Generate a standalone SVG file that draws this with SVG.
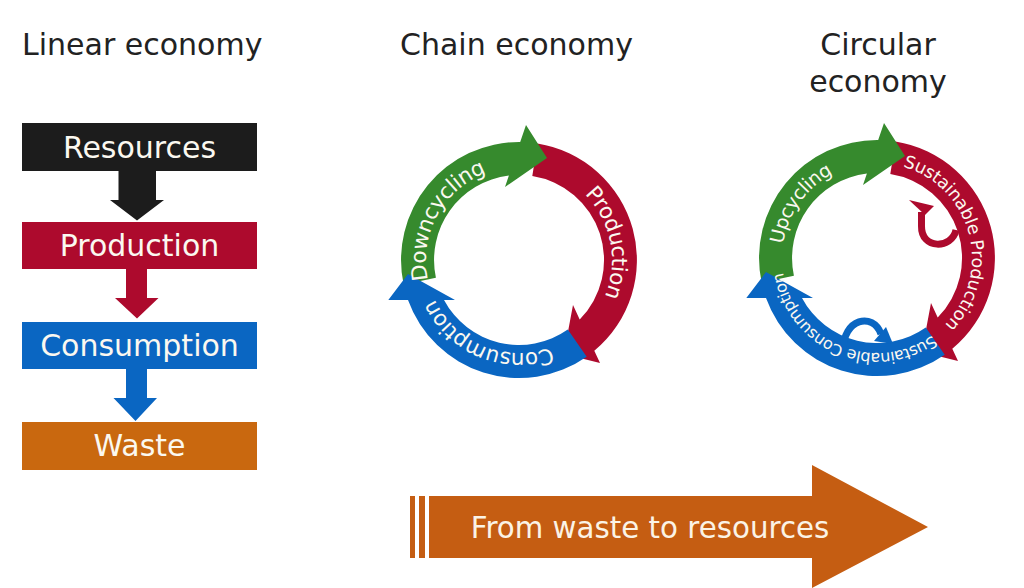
<svg xmlns="http://www.w3.org/2000/svg" xmlns:xlink="http://www.w3.org/1999/xlink" width="1024" height="588" viewBox="0 0 1024 588">
  <style>
    .title { font-family: "DejaVu Sans", Verdana, sans-serif; font-size: 30px; fill: #222222; }
    .boxtxt { font-family: "DejaVu Sans", Verdana, sans-serif; font-size: 30px; fill: #fbf8f0; text-anchor: middle; }
    .ringtxt { font-family: "DejaVu Sans", Verdana, sans-serif; fill: #fbf8f0; text-anchor: middle; }
    .black { fill: #1c1c1c; }
    .red { fill: #ad0a2d; }
    .blue { fill: #0a66c2; }
    .green { fill: #368a2d; }
    .orange { fill: #c9680f; }
    .bigarrow { fill: #c55d12; }
  </style>
  <defs>
    <path id="arcGreen" d="M -115.4 24.5 A 118 118 0 0 1 1.2 -118 L 7 -135 L 28 -102 L -14 -73 L -10.1 -84.4 A 85 85 0 0 0 -83.1 17.7 Z"/>
    <path id="arcRed" d="M 18.5 -116.5 A 118 118 0 0 1 75.3 90.8 L 81 103 L 44.8 93.9 L 54 45 L 60.7 59.5 A 85 85 0 0 0 13.3 -84 Z"/>
    <path id="arcBlue" d="M 67.7 96.7 A 118 118 0 0 1 -111 40 L -130.7 40 L -111 14 L -64 40 L -75 40 A 85 85 0 0 0 48.8 69.6 Z"/>
    <path id="tpChain" d="M 502.85 168.41 A 93 93 0 1 1 535.15 351.59 A 93 93 0 1 1 502.85 168.41"/>
    <path id="tpCirc" d="M 860.50 164.44 A 95 95 0 1 1 893.50 351.56 A 95 95 0 1 1 860.50 164.44"/>
  </defs>

  <!-- Titles -->
  <g id="title-linear"><text class="title" x="22" y="55">Linear economy</text></g>
  <g id="title-chain"><text class="title" x="400" y="55">Chain economy</text></g>
  <g id="title-circular">
    <text class="title" x="878" y="55" text-anchor="middle">Circular</text>
    <text class="title" x="878" y="92" text-anchor="middle">economy</text>
  </g>

  <!-- Linear economy nodes -->
  <g id="node-resources">
    <rect class="black" x="22" y="123" width="235" height="48"/>
    <text class="boxtxt" x="139.5" y="158">Resources</text>
  </g>
  <g id="node-production">
    <rect class="red" x="22" y="222" width="235" height="47"/>
    <text class="boxtxt" x="139.5" y="256">Production</text>
  </g>
  <g id="node-consumption">
    <rect class="blue" x="22" y="322" width="235" height="47"/>
    <text class="boxtxt" x="139.5" y="356">Consumption</text>
  </g>
  <g id="node-waste">
    <rect class="orange" x="22" y="422" width="235" height="48"/>
    <text class="boxtxt" x="139.5" y="456">Waste</text>
  </g>

  <!-- Linear connectors -->
  <g id="connectors">
    <polygon class="black" points="118.5,170 156,170 156,200 164,200 137,220.5 110,200 118.5,200"/>
    <polygon class="red" points="126,268 147,268 147,298 158.5,298 137,318.5 115,298 126,298"/>
    <polygon class="blue" points="126,368 147,368 147,398 157,398 135.5,421 113.5,398 126,398"/>
  </g>

  <!-- Chain economy -->
  <g id="chain-production" transform="translate(519,260)"><use xlink:href="#arcRed" class="red"/></g>
  <g id="chain-downcycling" transform="translate(519,260)"><use xlink:href="#arcGreen" class="green"/></g>
  <g id="chain-consumption" transform="translate(519,260)"><use xlink:href="#arcBlue" class="blue"/></g>
  <g id="chain-labels">
    <text class="ringtxt" font-size="21.5" letter-spacing="-0.4"><textPath xlink:href="#tpChain" startOffset="144">Production</textPath></text>
    <text class="ringtxt" font-size="21.5" letter-spacing="-0.4"><textPath xlink:href="#tpChain" startOffset="344">Consumption</textPath></text>
    <text class="ringtxt" font-size="21.5" letter-spacing="-0.4"><textPath xlink:href="#tpChain" startOffset="500">Downcycling</textPath></text>
  </g>

  <!-- Circular economy -->
  <g id="circ-production" transform="translate(877,258)"><use xlink:href="#arcRed" class="red"/></g>
  <g id="circ-upcycling" transform="translate(877,258)"><use xlink:href="#arcGreen" class="green"/></g>
  <g id="circ-consumption" transform="translate(877,258)"><use xlink:href="#arcBlue" class="blue"/></g>
  <g id="circ-red-loop">
    <path d="M 956 230 C 952 249, 921 250, 921.5 226 L 921.5 212" fill="none" stroke="#ad0a2d" stroke-width="7"/>
    <polygon class="red" points="909,200 934,206 925,215"/>
  </g>
  <g id="circ-blue-loop">
    <path d="M 843 351 C 843 318, 873 312, 881 334" fill="none" stroke="#0a66c2" stroke-width="7"/>
    <polygon class="blue" points="874,341 886,327 893,344"/>
  </g>
  <g id="circ-labels">
    <text class="ringtxt" font-size="17.5" letter-spacing="-0.2"><textPath xlink:href="#tpCirc" startOffset="141">Sustainable Production</textPath></text>
    <text class="ringtxt" font-size="16" letter-spacing="-0.5"><textPath xlink:href="#tpCirc" startOffset="352">Sustainable Consumption</textPath></text>
    <text class="ringtxt" font-size="19" letter-spacing="-0.4"><textPath xlink:href="#tpCirc" startOffset="522">Upcycling</textPath></text>
  </g>

  <!-- Big arrow -->
  <g id="arrow-waste-to-resources">
    <rect class="bigarrow" x="410" y="496" width="5" height="62"/>
    <rect class="bigarrow" x="419" y="496" width="6" height="62"/>
    <polygon class="bigarrow" points="429,496 812,496 812,465 928,527 812,588 812,558 429,558"/>
    <text x="650" y="538" text-anchor="middle" font-family="'DejaVu Sans', Verdana, sans-serif" font-size="29.3" fill="#fbf3e6">From waste to resources</text>
  </g>
</svg>
